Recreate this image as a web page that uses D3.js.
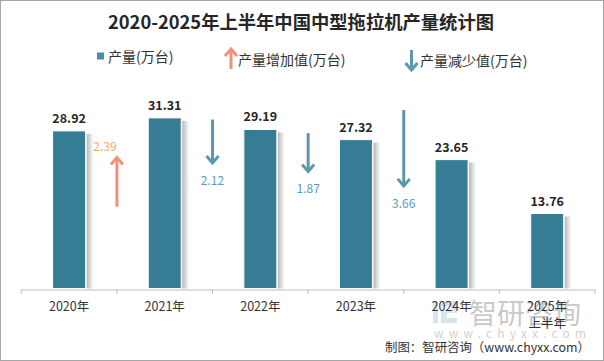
<!DOCTYPE html>
<html>
<head>
<meta charset="utf-8">
<script src="https://cdn.jsdelivr.net/npm/d3@7"></script>
<style>
  body { margin: 0; background: #fff; }
  svg { display: block; font-family: "Noto Sans CJK SC", "Noto Sans", sans-serif; }
</style>
</head>
<body>
<div id="container"></div>
<script>
/* DATA */
const years = ["2020年", "2021年", "2022年", "2023年", "2024年", "2025年|上半年"];
const output = [28.92, 31.31, 29.19, 27.32, 23.65, 13.76];
// change between consecutive years (only the first four are drawn)
const changeValue = [2.39, 2.12, 1.87, 3.66];
const changeDir = ["up", "down", "down", "down"];
// where each arrow's tail sits, in output units
const arrowStart = [15.0, 31.0, 28.5, 32.75];

/* CONSTANTS */
const width = 604, height = 361;
const barColor = "#377c95";
const upColor = "#f0917d", upText = "#f3ab69";
const downColor = "#5e97ab", downText = "#5c9abd";

const svg = d3.select("#container").append("svg")
    .attr("width", width)
    .attr("height", height);

const defs = svg.append("defs");
const grad = defs.append("linearGradient").attr("id", "shadow");
grad.append("stop").attr("offset", "0%").attr("stop-color", "#000").attr("stop-opacity", 0.28);
grad.append("stop").attr("offset", "100%").attr("stop-color", "#000").attr("stop-opacity", 0);

/* BORDER */
svg.append("rect")
    .attr("x", 0.5).attr("y", 0.5)
    .attr("width", width - 1).attr("height", height - 1)
    .attr("fill", "none").attr("stroke", "#a6a6a6");

/* TITLE */
svg.append("text")
    .attr("x", 301).attr("y", 29)
    .attr("text-anchor", "middle")
    .attr("textLength", 386).attr("lengthAdjust", "spacingAndGlyphs")
    .style("font-size", "18px").style("font-weight", "bold")
    .attr("fill", "#262626")
    .text("2020-2025年上半年中国中型拖拉机产量统计图");

/* SCALES */
const x = d3.scaleBand().domain(years).range([21.3, 595]).padding(0);
const y = d3.scaleLinear().domain([0, 40]).range([288.5, 70.5]);
const arrowLen = d3.scaleLinear().domain([0, 1]).range([0, 21]);
const barW = 33;

/* WATERMARK */
const wm = svg.append("g").attr("opacity", 0.45);
wm.append("rect").attr("x", 433).attr("y", 301).attr("width", 5).attr("height", 22).attr("fill", "#a9c3dc");
wm.append("path").attr("d", "M441,301h16v12h-10v5h10v5h-16v-13h10v-4h-10z").attr("fill", "#a9c3dc");
wm.append("text").attr("x", 469).attr("y", 324)
    .style("font-size", "28px").attr("fill", "#8a8a8a").text("智研咨询");
wm.append("text").attr("x", 434).attr("y", 338)
    .attr("textLength", 152).attr("lengthAdjust", "spacing")
    .style("font-size", "12px").attr("fill", "#9a9a9a").text("www.chyxx.com");

/* BARS */
svg.selectAll(".shadow").data(output).join("rect")
    .attr("class", "shadow")
    .attr("x", (d, i) => x(years[i]) + x.bandwidth() / 2 + barW / 2 + 1)
    .attr("y", d => y(d) + 3)
    .attr("width", 7)
    .attr("height", d => y(0) - y(d) - 3)
    .attr("fill", "url(#shadow)");

svg.selectAll(".bar").data(output).join("rect")
    .attr("class", "bar")
    .attr("x", (d, i) => x(years[i]) + x.bandwidth() / 2 - barW / 2)
    .attr("y", d => y(d))
    .attr("width", barW)
    .attr("height", d => y(0) - y(d))
    .attr("fill", barColor)
    .attr("stroke", "#fff").attr("stroke-width", 1);

svg.selectAll(".val").data(output).join("text")
    .attr("class", "val")
    .attr("x", (d, i) => x(years[i]) + x.bandwidth() / 2)
    .attr("y", d => y(d) - 8)
    .attr("text-anchor", "middle")
    .style("font-size", "12.5px").style("font-weight", "bold")
    .attr("fill", "#262626")
    .text(d => d.toFixed(2));

/* AXIS */
const xAxis = svg.append("g")
    .attr("transform", "translate(0," + 289.5 + ")")
    .call(d3.axisBottom(x).tickSize(0).tickFormat(""));
xAxis.select(".domain").attr("stroke", "#bfbfbf");
svg.append("g").selectAll("line").data(d3.range(years.length + 1)).join("line")
    .attr("x1", i => x.range()[0] + i * x.step())
    .attr("x2", i => x.range()[0] + i * x.step())
    .attr("y1", 289.5).attr("y2", 294)
    .attr("stroke", "#bfbfbf");

const yl = svg.append("g").selectAll("text").data(years).join("text")
    .attr("x", d => x(d) + x.bandwidth() / 2)
    .attr("y", 310.5)
    .attr("text-anchor", "middle")
    .style("font-size", "12.5px")
    .attr("fill", "#333");
yl.each(function(d) {
  d.split("|").forEach((t, k) => {
    d3.select(this).append("tspan")
      .attr("x", x(d) + x.bandwidth() / 2)
      .attr("dy", k === 0 ? 0 : 17)
      .text(t);
  });
});

/* CHANGE ARROWS */
function arrow(g, cx, tail, tip, color) {
  const dir = tip > tail ? 1 : -1;
  g.append("line")
    .attr("x1", cx).attr("x2", cx)
    .attr("y1", tail).attr("y2", tip - dir * 1.5)
    .attr("stroke", color).attr("stroke-width", 3);
  g.append("path")
    .attr("d", "M" + (cx - 6) + "," + (tip - dir * 8) + "L" + cx + "," + (tip - dir * 1) + "L" + (cx + 6) + "," + (tip - dir * 8))
    .attr("fill", "none").attr("stroke", color).attr("stroke-width", 3)
    .attr("stroke-linejoin", "miter");
}

const ag = svg.append("g");
changeValue.forEach((v, i) => {
  const cx = x(years[i + 1]);
  const tail = y(arrowStart[i]);
  const up = changeDir[i] === "up";
  const tip = up ? tail - arrowLen(v) : tail + arrowLen(v);
  arrow(ag, cx, tail, tip, up ? upColor : downColor);
  ag.append("text")
    .attr("x", up ? cx - 12 : cx)
    .attr("y", up ? tip - 6 : tip + 21)
    .attr("text-anchor", "middle")
    .style("font-size", "12px")
    .attr("fill", up ? upText : downText)
    .text(v.toFixed(2));
});

/* LEGEND */
const lg = svg.append("g").style("font-size", "14px").attr("fill", "#333");
lg.append("rect").attr("x", 97).attr("y", 52.5).attr("width", 7).attr("height", 7).attr("fill", "#4a8da6");
lg.append("text").attr("x", 108).attr("y", 61.5).text("产量(万台)");
arrow(lg, 231, 69, 48, upColor);
lg.append("text").attr("x", 238).attr("y", 64.5).text("产量增加值(万台)");
arrow(lg, 411.5, 50, 71, downColor);
lg.append("text").attr("x", 420).attr("y", 66).text("产量减少值(万台)");

/* SOURCE */
svg.append("text")
    .attr("x", 385).attr("y", 351.5)
    .attr("textLength", 205).attr("lengthAdjust", "spacingAndGlyphs")
    .style("font-size", "12.5px").attr("fill", "#333")
    .text("制图：智研咨询（www.chyxx.com）");
</script>
</body>
</html>
